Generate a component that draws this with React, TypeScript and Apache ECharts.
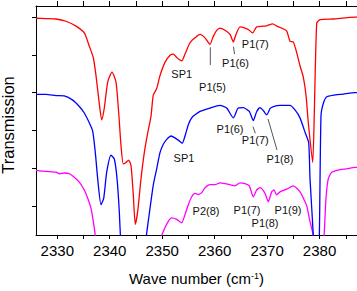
import React, { useEffect, useRef } from "react";
import * as echarts from "echarts";

const xTickLabels = [2330, 2340, 2350, 2360, 2370, 2380];
const xTicks = [2330, 2335, 2340, 2345, 2350, 2355, 2360, 2365, 2370, 2375, 2380, 2385];
const yTicks = [1, 2, 3, 4, 5, 6];

const redX = [2325.94, 2327.8, 2329.75, 2331.66, 2333.57, 2335.15, 2336.1, 2336.86, 2337.38, 2337.89, 2338.47, 2338.96, 2339.61, 2340.43, 2341.19, 2341.71, 2342.15, 2342.59, 2343.1, 2343.6, 2344.05, 2344.49, 2344.87, 2345.33, 2345.96, 2346.59, 2347.24, 2347.86, 2348.3, 2348.95, 2349.58, 2350.53, 2351.49, 2352.12, 2352.76, 2353.72, 2354.35, 2355.3, 2356.26, 2357.21, 2358.16, 2359.11, 2359.74, 2360.39, 2361.02, 2361.97, 2362.93, 2363.56, 2364.07, 2364.84, 2365.79, 2366.42, 2367.25, 2368.02, 2369.92, 2371.07, 2371.83, 2372.78, 2373.74, 2374.37, 2375.0, 2375.64, 2376.27, 2376.9, 2377.42, 2377.86, 2378.69, 2379.0, 2379.46, 2380.09, 2382.62, 2386.76, 2387.14];
const redY = [5.97, 5.96, 5.95, 5.89, 5.76, 5.58, 5.23, 4.93, 4.45, 3.85, 3.28, 3.59, 4.28, 4.54, 4.28, 3.46, 2.59, 2.11, 2.15, 2.21, 2.07, 1.29, 0.51, 0.85, 1.72, 2.41, 2.93, 3.37, 3.93, 4.11, 4.45, 4.8, 4.99, 5.02, 4.93, 4.84, 5.02, 5.32, 5.45, 5.54, 5.45, 5.28, 5.49, 5.65, 5.71, 5.65, 5.54, 5.34, 5.54, 5.74, 5.71, 5.67, 5.58, 5.74, 5.77, 5.82, 5.76, 5.71, 5.63, 5.36, 5.34, 5.06, 4.71, 4.41, 3.93, 3.2, 2.15, 3.46, 5.84, 5.93, 5.95, 6.0, 6.0];

const blueX = [2325.94, 2327.85, 2329.75, 2331.33, 2332.94, 2334.2, 2335.15, 2336.1, 2336.75, 2337.25, 2337.7, 2338.33, 2338.85, 2339.42, 2340.24, 2340.87, 2341.39, 2341.82, 2342.1, 2342.6, 2344.5, 2346.4, 2346.9, 2347.5, 2348.3, 2348.95, 2349.58, 2350.21, 2350.86, 2351.68, 2352.44, 2353.26, 2353.83, 2354.35, 2354.98, 2355.62, 2356.26, 2357.21, 2359.11, 2361.02, 2362.29, 2363.56, 2364.5, 2365.47, 2366.6, 2367.37, 2368.02, 2368.65, 2369.3, 2369.92, 2370.6, 2371.2, 2372.49, 2374.37, 2375.32, 2376.27, 2377.28, 2377.93, 2378.18, 2378.82, 2379.2, 2379.6, 2379.96, 2380.28, 2380.8, 2381.37, 2382.6, 2384.5, 2386.76, 2387.14];
const blueY = [3.95, 3.95, 3.92, 3.91, 3.8, 3.63, 3.46, 3.2, 2.98, 2.41, 1.72, 1.03, 1.2, 1.89, 2.34, 2.24, 1.72, 0.85, 0.0, -1.0, -1.8, -1.0, 0.1, 0.75, 1.55, 1.98, 2.41, 2.63, 2.76, 2.85, 2.8, 2.72, 2.66, 2.85, 3.15, 3.33, 3.41, 3.5, 3.59, 3.66, 3.59, 3.33, 3.59, 3.6, 3.5, 3.26, 3.5, 3.6, 3.52, 3.41, 3.58, 3.63, 3.66, 3.66, 3.54, 3.33, 2.93, 2.67, 1.72, 0.2, -1.0, -1.0, 0.2, 3.4, 3.75, 3.89, 3.93, 3.96, 4.0, 4.0];

const magX = [2325.94, 2327.85, 2329.75, 2330.38, 2331.33, 2332.3, 2333.24, 2334.2, 2335.15, 2335.8, 2336.42, 2336.86, 2337.25, 2337.8, 2344.0, 2349.3, 2349.9, 2350.53, 2351.16, 2351.8, 2352.76, 2353.72, 2354.35, 2354.98, 2355.62, 2356.26, 2356.89, 2357.54, 2358.16, 2359.11, 2360.07, 2361.02, 2361.97, 2362.93, 2363.88, 2364.84, 2365.79, 2366.6, 2367.37, 2368.02, 2368.65, 2369.6, 2370.23, 2370.87, 2371.3, 2371.83, 2372.46, 2373.74, 2375.0, 2376.27, 2377.23, 2377.6, 2378.12, 2378.82, 2379.8, 2380.85, 2381.23, 2381.67, 2382.32, 2383.9, 2385.18, 2386.76, 2387.14];
const magY = [1.94, 1.91, 1.89, 1.85, 1.87, 1.85, 1.76, 1.63, 1.42, 1.2, 0.94, 0.59, 0.2, -0.8, -2.0, -0.8, 0.2, 0.42, 0.59, 0.68, 0.64, 0.55, 0.77, 1.03, 1.24, 1.33, 1.3, 1.35, 1.48, 1.56, 1.56, 1.61, 1.59, 1.56, 1.53, 1.61, 1.59, 1.53, 1.24, 1.42, 1.48, 1.33, 1.11, 1.37, 1.42, 1.29, 1.37, 1.44, 1.53, 1.37, 1.11, 0.98, 0.62, 0.2, -1.2, 0.2, 1.2, 1.72, 1.89, 1.96, 1.98, 2.02, 2.02];

const labelTexts = ["SP1", "P1(5)", "P1(6)", "P1(7)", "SP1", "P1(6)", "P1(7)", "P1(8)", "P2(8)", "P1(7)", "P1(8)", "P1(9)"];

const FONT = "'Liberation Sans', Arial, sans-serif";

function zip(xs: number[], ys: number[]) {
  return xs.map((x, i) => [x, ys[i]]);
}

export default function App() {
  const ref = useRef<HTMLDivElement>(null);
  useEffect(() => {
    if (!ref.current) return;
    const chart = echarts.init(ref.current, null, { renderer: "svg" });
    const xMin = 2325.94;
    const xMax = 2387.14;
    const labelPos = [
      [181.7, 74], [212.5, 87], [235.5, 63], [255.3, 44],
      [184, 157.5], [230, 128.5], [255.3, 140.3], [280, 159],
      [206, 210.5], [247, 210], [265, 223], [288, 210],
    ];
    const leaders = [
      [210.3, 47.3, 210.3, 65],
      [233.5, 46.7, 234.5, 54],
      [253, 126.7, 255.3, 133.3],
      [268, 119, 277, 150],
    ];
    const seriesStyle = (color: string, xs: number[], ys: number[]) => ({
      type: "line",
      data: zip(xs, ys),
      showSymbol: false,
      symbol: "none",
      smooth: 0.2,
      lineStyle: { color, width: 1.3 },
      itemStyle: { color },
      clip: true,
    });
    chart.setOption({
      animation: false,
      grid: { left: 36, right: 0, top: 6, bottom: 52, containLabel: false },
      xAxis: [
        {
          type: "value",
          position: "bottom",
          min: xMin,
          max: xMax,
          name: "{n|Wave number (cm}{s|-1}{n|)}",
          nameLocation: "middle",
          nameGap: 36,
          nameTextStyle: {
            rich: {
              n: { fontSize: 15, fontFamily: FONT, color: "#000" },
              s: { fontSize: 9, fontFamily: FONT, color: "#000", verticalAlign: "top" },
            },
          },
          axisLine: { show: true, lineStyle: { color: "#000", width: 1 } },
          axisTick: { show: true, inside: false, length: 4, customValues: xTicks, lineStyle: { color: "#000" } },
          axisLabel: {
            show: true,
            customValues: xTickLabels,
            margin: 7.5,
            fontSize: 15,
            fontFamily: FONT,
            color: "#000",
            formatter: (v: number) => String(Math.round(v)),
          },
          splitLine: { show: false },
        },
        {
          type: "value",
          position: "top",
          min: xMin,
          max: xMax,
          axisLine: { show: true, lineStyle: { color: "#000", width: 1 } },
          axisTick: { show: true, inside: false, length: 5, customValues: xTicks, lineStyle: { color: "#000" } },
          axisLabel: { show: false },
          splitLine: { show: false },
        },
      ],
      yAxis: {
        type: "value",
        min: 0.227,
        max: 6.294,
        axisLine: { show: true, lineStyle: { color: "#000", width: 1 } },
        axisTick: { show: true, inside: false, length: 4, customValues: yTicks, lineStyle: { color: "#000" } },
        axisLabel: { show: false },
        splitLine: { show: false },
      },
      series: [
        seriesStyle("#ff00ff", magX, magY),
        seriesStyle("#0000ff", blueX, blueY),
        seriesStyle("#ff0000", redX, redY),
      ],
      graphic: [
        {
          type: "text",
          x: 7.8,
          y: 125,
          rotation: Math.PI / 2,
          style: {
            text: "Transmission",
            fill: "#000",
            font: `16.5px ${FONT}`,
            align: "center",
            verticalAlign: "middle",
          },
        },
        ...labelTexts.map((t, i) => ({
          type: "text",
          x: labelPos[i][0],
          y: labelPos[i][1],
          z: 100,
          style: {
            text: t,
            fill: "#111",
            font: `11px ${FONT}`,
            align: "center",
            verticalAlign: "middle",
          },
        })),
        ...leaders.map((l) => ({
          type: "line",
          z: 100,
          shape: { x1: l[0], y1: l[1], x2: l[2], y2: l[3] },
          style: { stroke: "#555", lineWidth: 1 },
        })),
      ],
    });
    return () => chart.dispose();
  }, []);
  return (
    <div
      ref={ref}
      style={{ position: "fixed", left: 0, top: 0, width: 357, height: 291, background: "#fff" }}
    />
  );
}
